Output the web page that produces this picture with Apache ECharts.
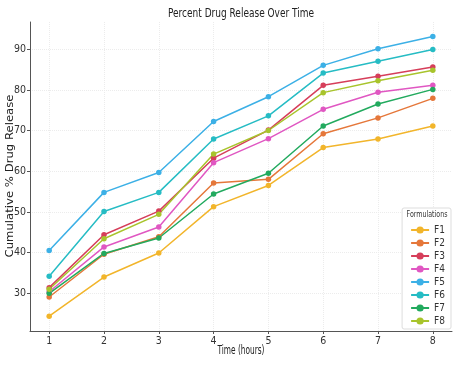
<!DOCTYPE html>
<html><head><meta charset="utf-8">
<script src="https://cdn.jsdelivr.net/npm/echarts@6/dist/echarts.min.js"></script>
<style>html,body{margin:0;padding:0;background:#fff}#c{width:461px;height:367px}</style>
</head><body><div id="c"></div>
<script>
const hours = [1, 2, 3, 4, 5, 6, 7, 8];
const F1 = [24.4, 34.0, 39.9, 51.3, 56.5, 65.8, 67.9, 71.1];
const F2 = [29.1, 39.6, 43.9, 57.1, 58.0, 69.2, 73.1, 77.9];
const F3 = [31.4, 44.4, 50.2, 63.2, 70.1, 81.1, 83.3, 85.6];
const F4 = [30.4, 41.4, 46.3, 62.1, 68.0, 75.2, 79.4, 81.1];
const F5 = [40.5, 54.8, 59.7, 72.2, 78.3, 86.0, 90.1, 93.1];
const F6 = [34.2, 50.1, 54.8, 67.9, 73.6, 84.1, 87.0, 89.9];
const F7 = [30.0, 39.8, 43.6, 54.4, 59.5, 71.1, 76.5, 80.1];
const F8 = [31.0, 43.4, 49.4, 64.2, 70.0, 79.3, 82.2, 84.8];
const names = ['F1','F2','F3','F4','F5','F6','F7','F8'];
const values = [F1, F2, F3, F4, F5, F6, F7, F8];
const colors = ['#f2b52b','#e5773a','#d63e5a','#e057c2','#3cb0e6','#26bcc4','#22aa5e','#a8c42c'];
const xTicks = [1, 2, 3, 4, 5, 6, 7, 8];
const yTicks = [30, 40, 50, 60, 70, 80, 90];
const titleText = 'Percent Drug Release Over Time';
const xName = 'Time (hours)';
const yName = 'Cumulative % Drug Release';
const legendTitle = 'Formulations';

const ctx = document.createElement('canvas').getContext('2d');
function hasFont(f) {
  const s = 'Cumulative 0123 Wm';
  ctx.font = '20px monospace'; const a = ctx.measureText(s).width;
  ctx.font = '20px "' + f + '", monospace'; return ctx.measureText(s).width !== a;
}
const COND = hasFont('DejaVu Sans Condensed') ? '"DejaVu Sans Condensed"'
  : (hasFont('Liberation Sans Narrow') ? '"Liberation Sans Narrow"' : '"DejaVu Sans"');
const FONT = COND + ', "DejaVu Sans", sans-serif';
function textW(t, size) { ctx.font = size + 'px ' + FONT; return ctx.measureText(t).width; }
function fitText(t, size, target) { return target / textW(t, size); }

const chart = echarts.init(document.getElementById('c'), null, {renderer: 'canvas'});
const series = names.map((n, i) => ({
  name: n, type: 'line',
  data: hours.map((h, j) => [h, values[i][j]]),
  symbol: 'circle', symbolSize: 5.5,
  lineStyle: {width: 1.5, color: colors[i]},
  itemStyle: {color: colors[i]},
  emphasis: {disabled: true}, animation: false
}));
chart.setOption({
  backgroundColor: '#fff',
  animation: false,
  textStyle: {fontFamily: FONT},
  grid: {left: 30, right: 9, top: 22, bottom: 36, containLabel: false, outerBoundsMode: 'none'},
  xAxis: {
    type: 'value', min: 0.65, max: 8.35,
    axisLine: {show: true, lineStyle: {color: '#555', width: 1}},
    axisTick: {show: true, customValues: xTicks, length: 3, lineStyle: {color: '#555'}},
    axisLabel: {customValues: xTicks, fontFamily: FONT, fontSize: 10.5, color: '#333', margin: 5},
    splitLine: {show: true, lineStyle: {color: '#ececec', type: 'dotted', width: 1}}
  },
  yAxis: {
    type: 'value', min: 20.75, max: 96.65,
    axisLine: {show: true, lineStyle: {color: '#555', width: 1}},
    axisTick: {show: true, customValues: yTicks, length: 3, lineStyle: {color: '#555'}},
    axisLabel: {customValues: yTicks, fontFamily: FONT, fontSize: 10.5, color: '#333', margin: 4},
    splitLine: {show: true, lineStyle: {color: '#ececec', type: 'dotted', width: 1}}
  },
  legend: {
    orient: 'vertical', right: 10, top: 208,
    data: names,
    backgroundColor: '#fff', borderColor: '#ddd', borderWidth: 1, borderRadius: 2,
    padding: [17, 6, 3, 8], itemGap: 3, itemWidth: 18, itemHeight: 9,
    textStyle: {fontFamily: FONT, fontSize: 10, color: '#333'}
  },
  graphic: [
    {type: 'text', x: 241, y: 14, scaleX: fitText(titleText, 13, 146), z: 100,
      style: {text: titleText, fontFamily: FONT, fontSize: 13, fill: '#222', align: 'center', verticalAlign: 'middle'}},
    {type: 'text', x: 241, y: 351, scaleX: fitText(xName, 11.5, 47), z: 100,
      style: {text: xName, fontFamily: FONT, fontSize: 11.5, fill: '#222', align: 'center', verticalAlign: 'middle'}},
    {type: 'text', x: 10, y: 176, rotation: Math.PI / 2, scaleX: fitText(yName, 11.5, 163), scaleY: 0.85, z: 100,
      style: {text: yName, fontFamily: FONT, fontSize: 11.5, fill: '#222', align: 'center', verticalAlign: 'middle'}},
    {type: 'text', x: 427, y: 215, scaleX: fitText(legendTitle, 9.5, 41), z: 100,
      style: {text: legendTitle, fontFamily: FONT, fontSize: 9.5, fill: '#333', align: 'center', verticalAlign: 'middle'}}
  ],
  series: series
});
</script></body></html>
